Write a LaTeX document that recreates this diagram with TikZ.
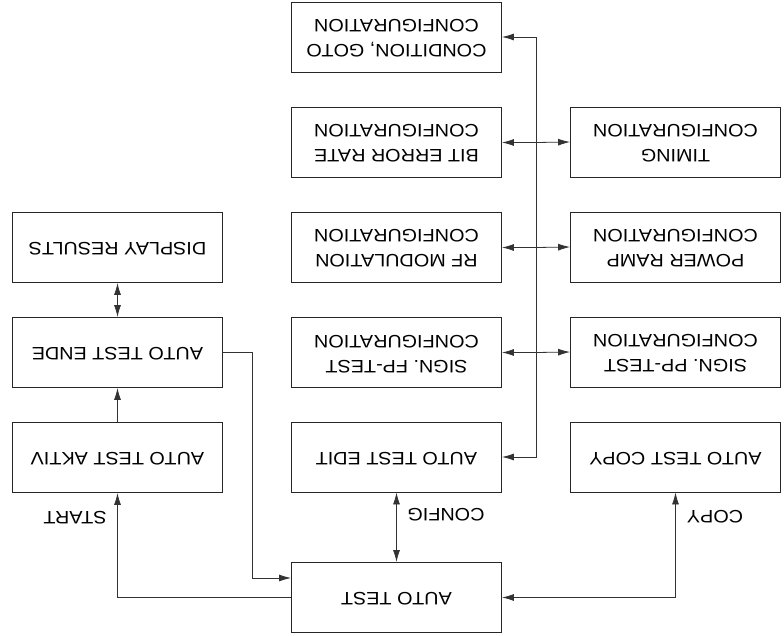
\documentclass[tikz,border=0pt]{standalone}
\usepackage{graphicx}
\usepackage{fontspec}
\setmainfont[FakeStretch=1.1]{Liberation Sans}
\usetikzlibrary{arrows.meta}
\newcommand{\flipt}[1]{\rotatebox{180}{\begin{tabular}{@{}c@{}}#1\end{tabular}}}
\tikzset{
  box/.style={draw=black!85, line width=0.9pt, minimum width=210pt, minimum height=70pt, inner sep=0pt},
  conn/.style={draw=black!80, line width=0.8pt},
  tip/.tip={Latex[length=12pt,width=7pt]},
  lbl/.style={inner sep=0pt},
}
\begin{document}
\begin{tikzpicture}[x=1pt,y=-1pt,font=\fontsize{18}{25}\selectfont]
\useasboundingbox (0,0) rectangle (784,636);
% middle column
\node[box] (cond)  at (396.5,37)    {\flipt{CONDITION, GOTO\\CONFIGURATION}};
\node[box] (ber)   at (396.5,142.5) {\flipt{BIT ERROR RATE\\CONFIGURATION}};
\node[box] (rf)    at (396.5,247.5) {\flipt{RF MODULATION\\CONFIGURATION}};
\node[box] (fp)    at (396.5,352.5) {\flipt{SIGN. FP-TEST\\CONFIGURATION}};
\node[box] (edit)  at (396.5,457)   {\flipt{AUTO TEST EDIT}};
\node[box] (at)    at (396.5,597.5) {\flipt{AUTO TEST}};
% right column
\node[box] (timing) at (675.5,142)  {\flipt{TIMING\\CONFIGURATION}};
\node[box] (power)  at (675.5,247)  {\flipt{POWER RAMP\\CONFIGURATION}};
\node[box] (pp)     at (675.5,352)  {\flipt{SIGN. PP-TEST\\CONFIGURATION}};
\node[box] (copy)   at (675.5,457)  {\flipt{AUTO TEST COPY}};
% left column
\node[box] (disp)  at (117.5,247.5) {\flipt{DISPLAY RESULTS}};
\node[box] (ende)  at (117.5,352.5) {\flipt{AUTO TEST ENDE}};
\node[box] (aktiv) at (117.5,457.5) {\flipt{AUTO TEST AKTIV}};
% bus coordinates
\coordinate (bT) at (536,37);
\coordinate (b2) at (536,142.5);
\coordinate (b3) at (536,247.5);
\coordinate (b4) at (536,352.5);
\coordinate (bB) at (536,457);
% bus
\draw[conn,tip-tip] (edit.east) -- (bB) -- (bT) -- (cond.east);
\draw[conn,-tip] (b2) -- (ber.east);
\draw[conn,-tip] (b2) -- (timing.west);
\draw[conn,-tip] (b3) -- (rf.east);
\draw[conn,-tip] (b3) -- (power.west);
\draw[conn,-tip] (b4) -- (fp.east);
\draw[conn,-tip] (b4) -- (pp.west);
% config
\draw[conn,tip-tip] (edit.south) -- (at.north);
\node[lbl] (lconfig) at (446,513) {\flipt{CONFIG}};
% copy
\draw[conn,tip-tip] (at.east) -| (copy.south);
\node[lbl] (lcopy) at (715,515) {\flipt{COPY}};
% start
\draw[conn,-tip] (at.west) -| (aktiv.south);
\node[lbl] (lstart) at (75,516) {\flipt{START}};
% aktiv -> ende
\draw[conn,-tip] (aktiv.north) -- (ende.south);
% ende <-> display
\draw[conn,tip-tip] (ende.north) -- (disp.south);
% ende -> auto test
\draw[conn,-tip] (ende.east) -- ++(29,0) |- ([yshift=19.5pt]at.west);
\end{tikzpicture}
\end{document}
